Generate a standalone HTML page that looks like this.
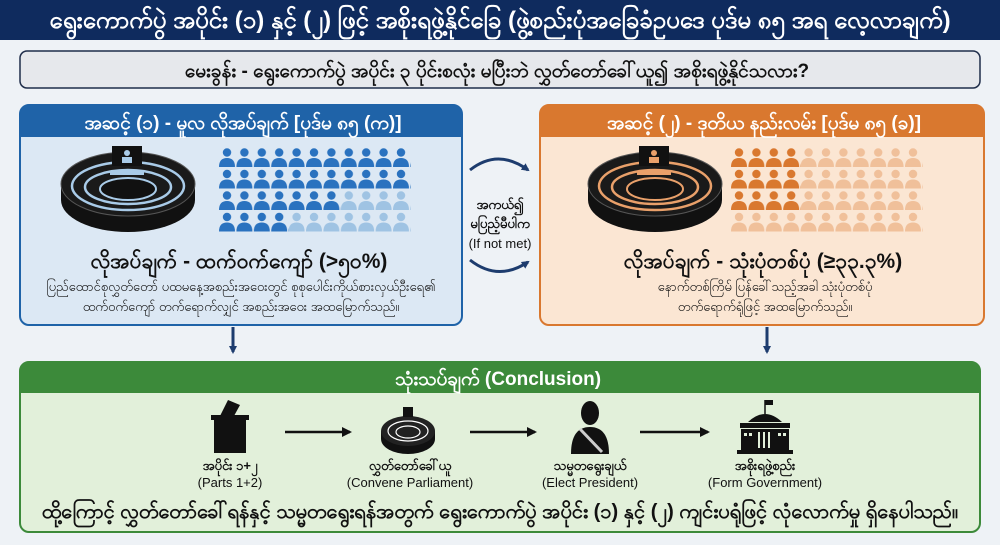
<!DOCTYPE html>
<html><head><meta charset="utf-8"><style>
html,body{margin:0;padding:0;background:#eef2f6;}
svg{display:block}
text{font-family:"Liberation Sans","Noto Sans CJK SC",sans-serif;}
</style></head><body>
<svg width="1000" height="545" viewBox="0 0 1000 545" xmlns="http://www.w3.org/2000/svg">
<defs>
<g id="pp"><circle cx="8" cy="4.5" r="4.2"/><path d="M0 19 Q0 10 8 10 Q16 10 16 19 Z"/></g>
<pattern id="pb" x="219" y="148" width="17.4" height="21.5" patternUnits="userSpaceOnUse"><use href="#pp" fill="#2a72bf"/></pattern>
<pattern id="pbl" x="219" y="148" width="17.4" height="21.5" patternUnits="userSpaceOnUse"><use href="#pp" fill="#9fc3e3"/></pattern>
<pattern id="po" x="731" y="148" width="17.4" height="21.5" patternUnits="userSpaceOnUse"><use href="#pp" fill="#d9782f"/></pattern>
<pattern id="pol" x="731" y="148" width="17.4" height="21.5" patternUnits="userSpaceOnUse"><use href="#pp" fill="#f0c09a"/></pattern>
<marker id="ah" markerWidth="8" markerHeight="8" refX="6" refY="4" orient="auto" markerUnits="userSpaceOnUse"><path d="M0 0 L8 4 L0 8 Z" fill="#1d3c6e"/></marker>
<marker id="ak" markerWidth="10" markerHeight="10" refX="8" refY="5" orient="auto" markerUnits="userSpaceOnUse"><path d="M0 0 L10 5 L0 10 Z" fill="#111"/></marker>
</defs>
<rect width="1000" height="545" fill="#eef2f6"/>
<!-- title -->
<rect x="0" y="0" width="1000" height="40" fill="#0f2b5e"/>
<text x="500" y="28" text-anchor="middle" fill="#fff" font-size="24" font-weight="bold">ရွေးကောက်ပွဲ အပိုင်း (၁) နှင့် (၂) ဖြင့် အစိုးရဖွဲ့နိုင်ခြေ (ဖွဲ့စည်းပုံအခြေခံဥပဒေ ပုဒ်မ ၈၅ အရ လေ့လာချက်)</text>
<!-- question -->
<rect x="20" y="51" width="960" height="37" rx="7" fill="#e6e8ec" stroke="#1f2d4a" stroke-width="1.5"/>
<text x="497" y="77" text-anchor="middle" fill="#111" font-size="19" font-weight="bold">မေးခွန်း - ရွေးကောက်ပွဲ အပိုင်း ၃ ပိုင်းစလုံး မပြီးဘဲ လွှတ်တော်ခေါ်ယူ၍ အစိုးရဖွဲ့နိုင်သလား?</text>
<!-- left panel -->
<rect x="20" y="105" width="442" height="220" rx="9" fill="#dce8f4" stroke="#1f63a8" stroke-width="2"/>
<path d="M20 137 V114 Q20 105 29 105 H453 Q462 105 462 114 V137 Z" fill="#1f63a8"/>
<text x="243" y="129" text-anchor="middle" fill="#fff" font-size="19" font-weight="bold">အဆင့် (၁) - မူလ လိုအပ်ချက် [ပုဒ်မ ၈၅ (က)]</text>
<g transform="translate(128,184)">
<ellipse cx="0" cy="16" rx="67" ry="32" fill="#111"/>
<rect x="-67" y="0" width="134" height="16" fill="#111"/>
<ellipse cx="0" cy="0" rx="67" ry="32" fill="#1a1a1a" stroke="#555" stroke-width="1"/>
<ellipse cx="0" cy="2" rx="56" ry="24" fill="none" stroke="#a9cbe8" stroke-width="2.5"/>
<ellipse cx="0" cy="3" rx="43" ry="17" fill="none" stroke="#a9cbe8" stroke-width="2.5"/>
<ellipse cx="0" cy="5" rx="28" ry="11" fill="#111" stroke="#a9cbe8" stroke-width="2"/>
<rect x="-16" y="-38" width="30" height="20" fill="#111"/>
<circle cx="-1" cy="-31" r="3" fill="#a9cbe8"/><rect x="-6" y="-27" width="10" height="6" fill="#a9cbe8"/>
<rect x="-18" y="-13" width="34" height="4" fill="#a9cbe8"/>
</g>
<rect x="219" y="148" width="192" height="43" fill="url(#pb)"/>
<rect x="219" y="191" width="122" height="21.5" fill="url(#pb)"/>
<rect x="341" y="191" width="70" height="21.5" fill="url(#pbl)"/>
<rect x="219" y="212.5" width="70" height="21.5" fill="url(#pb)"/>
<rect x="289" y="212.5" width="122" height="21.5" fill="url(#pbl)"/>
<text x="239" y="268" text-anchor="middle" fill="#111" font-size="21" font-weight="bold">လိုအပ်ချက် - ထက်ဝက်ကျော် (&gt;၅၀%)</text>
<text x="241" y="291" text-anchor="middle" fill="#111" font-size="13">ပြည်ထောင်စုလွှတ်တော် ပထမနေ့အစည်းအဝေးတွင် စုစုပေါင်းကိုယ်စားလှယ်ဦးရေ၏</text>
<text x="241" y="311" text-anchor="middle" fill="#111" font-size="13">ထက်ဝက်ကျော် တက်ရောက်လျှင် အစည်းအဝေး အထမြောက်သည်။</text>
<!-- middle -->
<path d="M470 170 Q498 148 528 170" fill="none" stroke="#1d3c6e" stroke-width="3" marker-end="url(#ah)"/>
<path d="M470 260 Q498 282 528 262" fill="none" stroke="#1d3c6e" stroke-width="3" marker-end="url(#ah)"/>
<text x="500" y="209" text-anchor="middle" fill="#111" font-size="13" font-weight="bold">အကယ်၍</text>
<text x="500" y="228" text-anchor="middle" fill="#111" font-size="13" font-weight="bold">မပြည့်မီပါက</text>
<text x="500" y="248" text-anchor="middle" fill="#111" font-size="13">(If not met)</text>
<!-- right panel -->
<rect x="540" y="105" width="444" height="220" rx="9" fill="#fbe6d3" stroke="#d9782f" stroke-width="2"/>
<path d="M540 137 V114 Q540 105 549 105 H975 Q984 105 984 114 V137 Z" fill="#d9782f"/>
<text x="764" y="129" text-anchor="middle" fill="#fff" font-size="19" font-weight="bold">အဆင့် (၂) - ဒုတိယ နည်းလမ်း [ပုဒ်မ ၈၅ (ခ)]</text>
<g transform="translate(655,184)">
<ellipse cx="0" cy="16" rx="67" ry="32" fill="#111"/>
<rect x="-67" y="0" width="134" height="16" fill="#111"/>
<ellipse cx="0" cy="0" rx="67" ry="32" fill="#1a1a1a" stroke="#555" stroke-width="1"/>
<ellipse cx="0" cy="2" rx="56" ry="24" fill="none" stroke="#e9a06a" stroke-width="2.5"/>
<ellipse cx="0" cy="3" rx="43" ry="17" fill="none" stroke="#e9a06a" stroke-width="2.5"/>
<ellipse cx="0" cy="5" rx="28" ry="11" fill="#111" stroke="#e9a06a" stroke-width="2"/>
<rect x="-16" y="-38" width="30" height="20" fill="#111"/>
<circle cx="-1" cy="-31" r="3" fill="#e9a06a"/><rect x="-6" y="-27" width="10" height="6" fill="#e9a06a"/>
<rect x="-18" y="-13" width="34" height="4" fill="#e9a06a"/>
</g>
<rect x="731" y="148" width="70" height="64.5" fill="url(#po)"/>
<rect x="801" y="148" width="122" height="64.5" fill="url(#pol)"/>
<rect x="731" y="212.5" width="192" height="21.5" fill="url(#pol)"/>
<text x="763" y="268" text-anchor="middle" fill="#111" font-size="21" font-weight="bold">လိုအပ်ချက် - သုံးပုံတစ်ပုံ (≥၃၃.၃%)</text>
<text x="765" y="291" text-anchor="middle" fill="#111" font-size="13">နောက်တစ်ကြိမ် ပြန်ခေါ်သည့်အခါ သုံးပုံတစ်ပုံ</text>
<text x="765" y="311" text-anchor="middle" fill="#111" font-size="13">တက်ရောက်ရုံဖြင့် အထမြောက်သည်။</text>
<!-- down arrows -->
<line x1="233" y1="327" x2="233" y2="352" stroke="#1d3c6e" stroke-width="3" marker-end="url(#ah)"/>
<line x1="767" y1="327" x2="767" y2="352" stroke="#1d3c6e" stroke-width="3" marker-end="url(#ah)"/>
<!-- conclusion -->
<rect x="20" y="362" width="960" height="170" rx="9" fill="#e2f0da" stroke="#3c8a3a" stroke-width="2"/>
<path d="M20 393 V371 Q20 362 29 362 H971 Q980 362 980 371 V393 Z" fill="#3c8a3a"/>
<text x="498" y="385" text-anchor="middle" fill="#fff" font-size="19" font-weight="bold">သုံးသပ်ချက် (Conclusion)</text>
<!-- ballot -->
<rect x="214" y="419" width="32" height="34" fill="#111"/>
<rect x="211" y="415" width="38" height="5" fill="#111"/>
<path d="M220 416 L228 400 L240 405 L234 416 Z" fill="#111"/>
<line x1="285" y1="432" x2="350" y2="432" stroke="#111" stroke-width="2.5" marker-end="url(#ak)"/>
<!-- parliament -->
<g transform="translate(408,431)">
<ellipse cx="0" cy="8" rx="27" ry="15" fill="#111"/>
<rect x="-27" y="0" width="54" height="8" fill="#111"/>
<ellipse cx="0" cy="0" rx="27" ry="15" fill="#222"/>
<ellipse cx="0" cy="0" rx="20" ry="10" fill="none" stroke="#fff" stroke-width="1.2"/>
<ellipse cx="0" cy="1" rx="12" ry="6" fill="none" stroke="#fff" stroke-width="1.2"/>
<rect x="-5" y="-24" width="10" height="10" fill="#111"/>
</g>
<line x1="470" y1="432" x2="535" y2="432" stroke="#111" stroke-width="2.5" marker-end="url(#ak)"/>
<!-- president -->
<ellipse cx="590" cy="413" rx="9" ry="12" fill="#111"/>
<path d="M571 454 Q571 427 590 427 Q609 427 609 454 Z" fill="#111"/>
<path d="M580 429 L602 452" stroke="#ccc" stroke-width="3"/>
<line x1="640" y1="432" x2="708" y2="432" stroke="#111" stroke-width="2.5" marker-end="url(#ak)"/>
<!-- government -->
<g fill="#111">
<line x1="765" y1="400" x2="765" y2="414" stroke="#111" stroke-width="1.5"/>
<path d="M765 400 h8 v5 h-8z"/>
<path d="M748 422 Q765 406 782 422 Z"/>
<path d="M740 423 H790 V428 H740 Z"/>
<rect x="741" y="429" width="48" height="21"/>
<rect x="737" y="450" width="56" height="4"/>
</g>
<g fill="#e2f0da"><rect x="744" y="433" width="3" height="3"/><rect x="749" y="433" width="3" height="3"/><rect x="778" y="433" width="3" height="3"/><rect x="783" y="433" width="3" height="3"/><rect x="758" y="432" width="2" height="16"/><rect x="763" y="432" width="2" height="16"/><rect x="768" y="432" width="2" height="16"/></g>
<g text-anchor="middle" fill="#111" font-size="13">
<text x="230" y="470" font-weight="bold">အပိုင်း ၁+၂</text><text x="230" y="487">(Parts 1+2)</text>
<text x="410" y="470" font-weight="bold">လွှတ်တော်ခေါ်ယူ</text><text x="410" y="487">(Convene Parliament)</text>
<text x="590" y="470" font-weight="bold">သမ္မတရွေးချယ်</text><text x="590" y="487">(Elect President)</text>
<text x="765" y="470" font-weight="bold">အစိုးရဖွဲ့စည်း</text><text x="765" y="487">(Form Government)</text>
</g>
<text x="500" y="518" text-anchor="middle" fill="#111" font-size="20" font-weight="bold">ထို့ကြောင့် လွှတ်တော်ခေါ်ရန်နှင့် သမ္မတရွေးရန်အတွက် ရွေးကောက်ပွဲ အပိုင်း (၁) နှင့် (၂) ကျင်းပရုံဖြင့် လုံလောက်မှု ရှိနေပါသည်။</text>
</svg>
</body></html>
